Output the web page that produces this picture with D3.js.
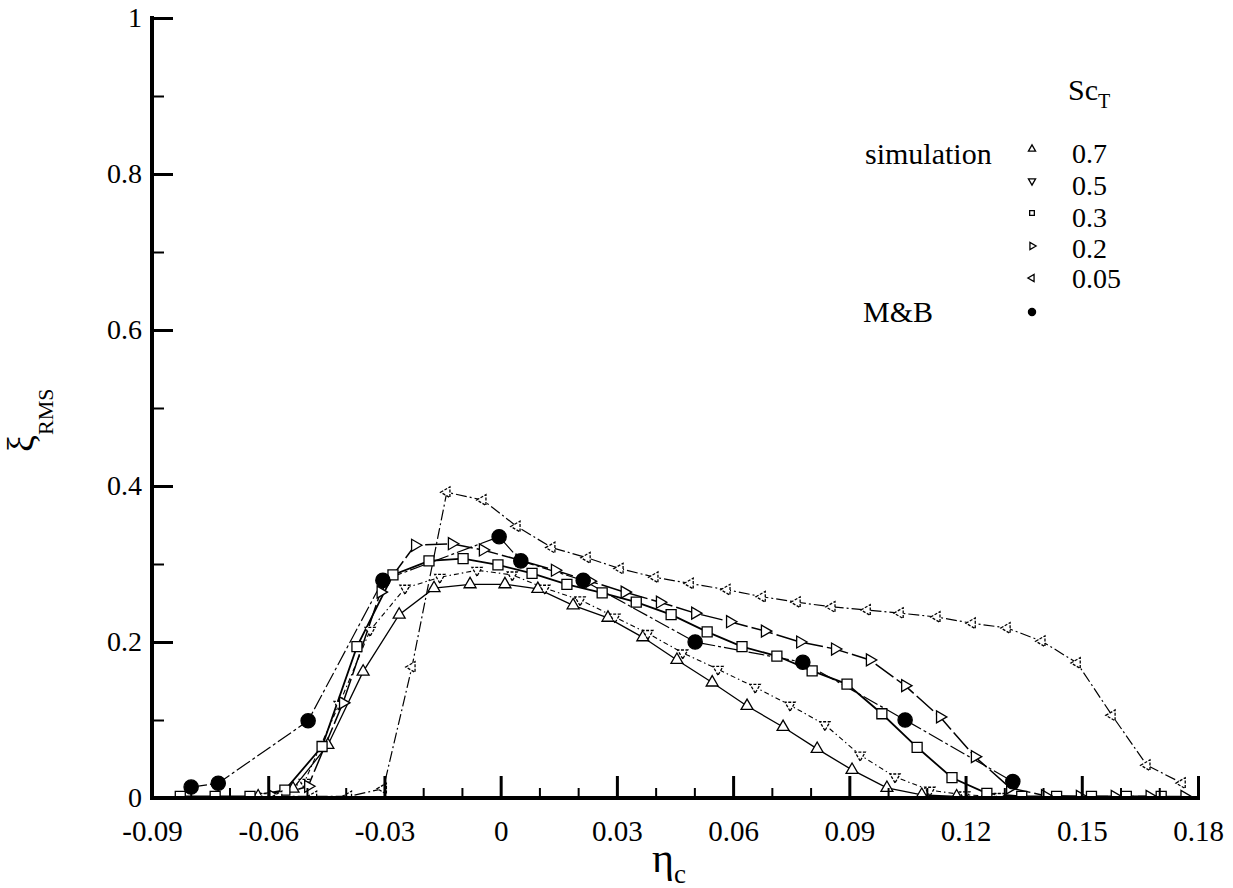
<!DOCTYPE html>
<html>
<head>
<meta charset="utf-8">
<script src="https://cdn.jsdelivr.net/npm/d3@7"></script>
<style>
  html, body { margin: 0; padding: 0; background: #fff; }
  svg { display: block; }
  svg text { font-family: "Liberation Serif", "DejaVu Serif", serif !important; fill: #000; }
</style>
</head>
<body>
<svg id="chart" width="1233" height="888"></svg>
<script>
// Axis ticks
const etaMajor = [-0.09, -0.06, -0.03, 0, 0.03, 0.06, 0.09, 0.12, 0.15, 0.18];
const etaMajorLabels = ["-0.09", "-0.06", "-0.03", "0", "0.03", "0.06", "0.09", "0.12", "0.15", "0.18"];
const etaMinor = [-0.08, -0.07, -0.05, -0.04, -0.02, -0.01, 0.01, 0.02, 0.04, 0.05, 0.07, 0.08, 0.10, 0.11, 0.13, 0.14, 0.16, 0.17];
const xiMajor = [0, 0.2, 0.4, 0.6, 0.8, 1];
const xiMajorLabels = ["0", "0.2", "0.4", "0.6", "0.8", "1"];
const xiMinor = [0.1, 0.3, 0.5, 0.7, 0.9];

// Simulation, Sc_T = 0.7
const eta07 = [-0.0626, -0.0536, -0.0446, -0.0355, -0.0262, -0.0172, -0.0079, 0.0011, 0.0096, 0.0187, 0.0277, 0.0367, 0.0455, 0.0546, 0.0636, 0.0729, 0.0817, 0.0907, 0.0997, 0.1087, 0.1177];
const xi07  = [0.002, 0.012, 0.068, 0.162, 0.235, 0.269, 0.274, 0.274, 0.268, 0.247, 0.231, 0.206, 0.177, 0.148, 0.118, 0.091, 0.063, 0.036, 0.013, 0.004, 0.002];

// Simulation, Sc_T = 0.5
const eta05 = [-0.0607, -0.0507, -0.0417, -0.0337, -0.0247, -0.0157, -0.0061, 0.0030, 0.0114, 0.0205, 0.0295, 0.0380, 0.0470, 0.0561, 0.0657, 0.0747, 0.0837, 0.0928, 0.1018, 0.1108, 0.1198, 0.1288];
const xi05  = [0.002, 0.020, 0.120, 0.215, 0.269, 0.283, 0.292, 0.286, 0.269, 0.254, 0.232, 0.211, 0.186, 0.165, 0.142, 0.119, 0.094, 0.055, 0.027, 0.010, 0.004, 0.002];

// Simulation, Sc_T = 0.3
const eta03 = [-0.0827, -0.0737, -0.0647, -0.0557, -0.0461, -0.0371, -0.0278, -0.0185, -0.0097, -0.0007, 0.0081, 0.0171, 0.0262, 0.0350, 0.0440, 0.0533, 0.0623, 0.0713, 0.0804, 0.0894, 0.0984, 0.1075, 0.1165, 0.1255, 0.1345, 0.1435, 0.1525, 0.1615, 0.1705];
const xi03  = [0.002, 0.002, 0.002, 0.010, 0.066, 0.194, 0.286, 0.304, 0.307, 0.299, 0.288, 0.274, 0.263, 0.251, 0.235, 0.213, 0.194, 0.182, 0.163, 0.146, 0.108, 0.065, 0.026, 0.006, 0.002, 0.002, 0.002, 0.002, 0.002];

// Simulation, Sc_T = 0.2
const eta02 = [-0.0587, -0.0497, -0.0407, -0.0310, -0.0221, -0.0126, -0.0046, 0.0049, 0.0140, 0.0230, 0.0320, 0.0411, 0.0502, 0.0592, 0.0682, 0.0773, 0.0863, 0.0953, 0.1044, 0.1134, 0.1224, 0.1315, 0.1405, 0.1495, 0.1585, 0.1675, 0.1765];
const xi02  = [0.002, 0.015, 0.122, 0.264, 0.324, 0.326, 0.318, 0.305, 0.292, 0.278, 0.264, 0.251, 0.237, 0.226, 0.214, 0.200, 0.191, 0.177, 0.144, 0.104, 0.053, 0.013, 0.003, 0.002, 0.002, 0.002, 0.002];

// Simulation, Sc_T = 0.05
const eta005 = [-0.0573, -0.0483, -0.0393, -0.0303, -0.0229, -0.0139, -0.0046, 0.0042, 0.0132, 0.0223, 0.0308, 0.0398, 0.0489, 0.0584, 0.0675, 0.0765, 0.0855, 0.0946, 0.1031, 0.1126, 0.1217, 0.1307, 0.1397, 0.1488, 0.1578, 0.1668, 0.1759];
const xi005  = [0.002, 0.002, 0.002, 0.012, 0.168, 0.392, 0.382, 0.348, 0.321, 0.308, 0.294, 0.283, 0.275, 0.267, 0.258, 0.251, 0.245, 0.241, 0.237, 0.232, 0.224, 0.218, 0.201, 0.173, 0.106, 0.042, 0.019];

// Measurements (M&B)
const etaMB = [-0.0799, -0.0729, -0.0497, -0.0304, -0.0004, 0.0052, 0.0213, 0.0502, 0.0780, 0.1044, 0.1322];
const xiMB  = [0.014, 0.019, 0.099, 0.279, 0.335, 0.304, 0.279, 0.200, 0.174, 0.100, 0.021];

const legendLabels = ["0.7", "0.5", "0.3", "0.2", "0.05"];

const SERIF = "'Liberation Serif', 'DejaVu Serif', serif";
const svg = d3.select("#chart");
const x = d3.scaleLinear().domain([-0.09, 0.18]).range([152, 1198]);
const y = d3.scaleLinear().domain([0, 1]).range([798, 18]);

// marker shapes
const triUp    = { type: d3.symbolTriangle, rot: 0 };
const triDown  = { type: d3.symbolTriangle, rot: 180 };
const triRight = { type: d3.symbolTriangle, rot: 90 };
const triLeft  = { type: d3.symbolTriangle, rot: -90 };
const square   = { type: d3.symbolSquare, rot: 0 };
const dot      = { type: d3.symbolCircle, rot: 0 };

const curves = [
  { eta: eta07,  xi: xi07,  shape: triUp,    size: 62,  fill: "#fff", width: 1.3, dash: null,        mdash: null },
  { eta: eta05,  xi: xi05,  shape: triDown,  size: 45,  fill: "#fff", width: 1.1, dash: "5,3,1.5,3", mdash: "3,1.5" },
  { eta: eta03,  xi: xi03,  shape: square,   size: 100, fill: "#fff", width: 1.8, dash: null,        mdash: null },
  { eta: eta02,  xi: xi02,  shape: triRight, size: 62,  fill: "#fff", width: 1.5, dash: "22,4",      mdash: null },
  { eta: eta005, xi: xi005, shape: triLeft,  size: 50,  fill: "#fff", width: 1.2, dash: "11,3,2,3",  mdash: "3,1.5" },
  { eta: etaMB,  xi: xiMB,  shape: dot,      size: 160, fill: "#000", width: 1.2, dash: "16,3,3,3",  mdash: null }
];

// keep the data above the bottom axis
svg.append("defs").append("clipPath").attr("id", "plotArea")
  .append("rect").attr("x", 150).attr("y", 0).attr("width", 1060).attr("height", 796);

const plot = svg.append("g").attr("clip-path", "url(#plotArea)");
const line = d3.line().x(d => x(d[0])).y(d => y(d[1]));

curves.forEach(c => {
  const pts = c.eta.map((e, i) => [e, c.xi[i]]);
  plot.append("path")
    .attr("d", line(pts))
    .attr("fill", "none")
    .attr("stroke", "#000")
    .attr("stroke-width", c.width)
    .attr("stroke-dasharray", c.dash);
});

curves.forEach(c => {
  const pts = c.eta.map((e, i) => [e, c.xi[i]]);
  const sym = d3.symbol().type(c.shape.type).size(c.size);
  plot.append("g").selectAll("path")
    .data(pts)
    .join("path")
    .attr("d", sym)
    .attr("transform", d => `translate(${x(d[0])},${y(d[1])}) rotate(${c.shape.rot})`)
    .attr("fill", c.fill)
    .attr("stroke", "#000")
    .attr("stroke-width", 1.3)
    .attr("stroke-dasharray", c.mdash);
});

// Axes: inward ticks, major and minor
function styleAxis(g, w) {
  g.attr("font-family", SERIF);
  g.select(".domain").remove();
  g.selectAll(".tick line").attr("stroke", "#000").attr("stroke-width", w);
}

const xMinorAxis = svg.append("g").attr("transform", "translate(0,798)")
  .call(d3.axisBottom(x).tickValues(etaMinor).tickSize(-10).tickFormat(""));
styleAxis(xMinorAxis, 2);

const xMajorAxis = svg.append("g").attr("transform", "translate(0,798)")
  .call(d3.axisBottom(x).tickValues(etaMajor).tickSize(-22).tickSizeOuter(0).tickPadding(22)
    .tickFormat((d, i) => etaMajorLabels[i]));
styleAxis(xMajorAxis, 3);
xMajorAxis.selectAll("text").attr("font-size", 29).style("font-family", SERIF);

const yMinorAxis = svg.append("g").attr("transform", "translate(152,0)")
  .call(d3.axisLeft(y).tickValues(xiMinor).tickSize(-12).tickFormat(""));
styleAxis(yMinorAxis, 2);

const yMajorAxis = svg.append("g").attr("transform", "translate(152,0)")
  .call(d3.axisLeft(y).tickValues(xiMajor).tickSize(-21).tickSizeOuter(0).tickPadding(10)
    .tickFormat((d, i) => xiMajorLabels[i]));
styleAxis(yMajorAxis, 3);
yMajorAxis.selectAll("text").attr("font-size", 28).style("font-family", SERIF);

// axis lines
svg.append("line").attr("x1", x(-0.09)).attr("x2", x(0.18)).attr("y1", y(0)).attr("y2", y(0))
  .attr("stroke", "#000").attr("stroke-width", 4).attr("stroke-linecap", "square");
svg.append("line").attr("x1", x(-0.09)).attr("x2", x(-0.09)).attr("y1", y(0)).attr("y2", y(1))
  .attr("stroke", "#000").attr("stroke-width", 4).attr("stroke-linecap", "square");

// axis titles
const xt = svg.append("text").attr("x", 652).attr("y", 872).style("font-family", SERIF);
xt.append("tspan").attr("font-size", 42).text("η");
xt.append("tspan").attr("font-size", 27).attr("dy", 11).text("c");

const yt = svg.append("text").attr("transform", "translate(34,452) rotate(-90)").style("font-family", SERIF);
yt.append("tspan").attr("font-size", 38).text("ξ");
yt.append("tspan").attr("font-size", 22).attr("dy", 19).text("RMS");

// legend
const lg = svg.append("g").style("font-family", SERIF);
const st = lg.append("text").attr("x", 1068).attr("y", 100).attr("font-size", 30);
st.append("tspan").text("Sc");
st.append("tspan").attr("font-size", 20).attr("dy", 8).text("T");

lg.append("text").attr("x", 865).attr("y", 164).attr("font-size", 30).text("simulation");
lg.append("text").attr("x", 863).attr("y", 322).attr("font-size", 30).text("M&B");

const legendMarkY = [149, 181, 213, 246, 278, 312];
const legendTextY = [163, 195, 227, 258, 288];
curves.forEach((c, i) => {
  const sym = d3.symbol().type(c.shape.type).size(i === 5 ? 40 : 22);
  lg.append("path").attr("d", sym)
    .attr("transform", `translate(1032,${legendMarkY[i]}) rotate(${c.shape.rot})`)
    .attr("fill", c.fill).attr("stroke", "#000").attr("stroke-width", 1.3);
  if (i < legendLabels.length) {
    lg.append("text").attr("x", 1072).attr("y", legendTextY[i]).attr("font-size", 28).text(legendLabels[i]);
  }
});
</script>
</body>
</html>
